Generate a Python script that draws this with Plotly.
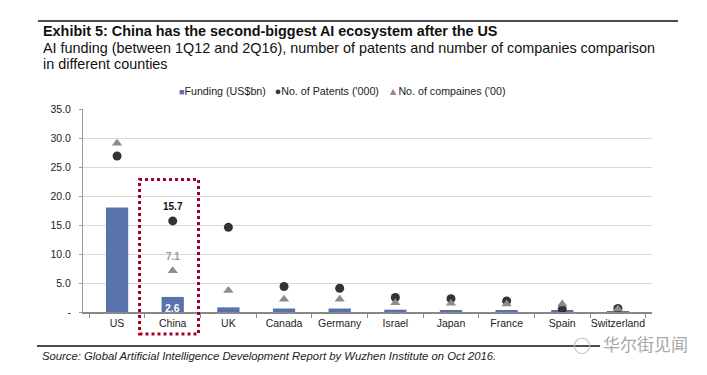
import plotly.graph_objects as go

countries = ["US", "China", "UK", "Canada", "Germany", "Israel", "Japan", "France", "Spain", "Switzerland"]
funding = [18.0, 2.6, 0.8, 0.6, 0.6, 0.4, 0.3, 0.2, 0.2, 0.1]
patents = [26.9, 15.7, 14.6, 4.4, 4.1, 2.5, 2.3, 1.9, 0.5, 0.6]
companies = [29.1, 7.1, 3.7, 2.2, 2.2, 1.6, 1.5, 1.4, 1.4, 0.5]
y_ticks = [0, 5, 10, 15, 20, 25, 30, 35]
y_tick_text = ["-", "5.0", "10.0", "15.0", "20.0", "25.0", "30.0", "35.0"]

BAR_C, PAT_C, COMP_C = "#5873AC", "#333333", "#8C8C8C"

# page has an 8px body margin: figure coords = page coords - 8
OFF = 8
W, H = 699, 367
L = 83 - OFF
T = 109 - OFF
R = W - (652 - OFF)
B = H - (312 - OFF)
PW, PH = W - L - R, H - T - B
FONT = "Liberation Sans, Arial"

fig = go.Figure()
fig.add_trace(go.Bar(x=countries, y=funding, name="Funding (US$bn)",
                     marker=dict(color=BAR_C, line=dict(width=0)), width=0.4))
fig.add_trace(go.Scatter(x=countries, y=patents, mode="markers", name="No. of Patents ('000)",
                         marker=dict(symbol="circle", size=9, color=PAT_C)))
fig.add_trace(go.Scatter(x=countries, y=companies, mode="markers", name="No. of compaines ('00)",
                         marker=dict(symbol="triangle-up", size=9, color=COMP_C)))

fig.update_layout(
    width=W, height=H, margin=dict(l=L, r=R, t=T, b=B),
    plot_bgcolor="white", paper_bgcolor="white",
    font=dict(family=FONT, size=10, color="#222"),
    showlegend=False,
)
fig.update_xaxes(type="category", showgrid=False, showline=True, linecolor="#888888", linewidth=2,
                 ticks="outside", tickson="boundaries", ticklen=4, tickcolor="#888888",
                 tickangle=0, automargin=False,
                 tickfont=dict(size=10.5, color="#222"))
fig.update_yaxes(range=[0, 35], tickvals=y_ticks, ticktext=y_tick_text, showgrid=True,
                 gridcolor="#D9D9D9", gridwidth=1, showline=True, linecolor="#999999", linewidth=1,
                 ticks="outside", ticklen=3, tickcolor="#999999", zeroline=False, automargin=False,
                 ticklabelstandoff=6,
                 tickfont=dict(size=10.5, color="#222"))


def px_x(x):
    return (x - OFF - L) / PW


def px_y(y):
    return 1 - (y - OFF - T) / PH


# legend (manual, compact)
legend_text = (f"<span style='color:{BAR_C};font-size:9px'>■</span>Funding (US$bn)   "
               f"<span style='color:{PAT_C}'>●</span>No. of Patents ('000)   "
               f"<span style='color:{COMP_C}'>▲</span>No. of compaines ('00)")
fig.add_annotation(xref="paper", yref="paper", x=px_x(177), y=px_y(91), xanchor="left", yanchor="middle",
                   text=legend_text, showarrow=False, font=dict(size=10.7, color="#222"))

# data labels for China
ci = countries.index("China")
fig.add_annotation(x=countries[ci], y=patents[ci], text="<b>15.7</b>", showarrow=False,
                   yshift=14, font=dict(size=10, color="#111"))
fig.add_annotation(x=countries[ci], y=companies[ci], text="<b>7.1</b>", showarrow=False,
                   yshift=14, font=dict(size=10, color="#999999"))
fig.add_annotation(x=countries[ci], y=funding[ci], text="<b>2.6</b>", showarrow=False,
                   yanchor="top", yshift=-3, font=dict(size=10.5, color="white"))

# red dotted highlight box
fig.add_shape(type="rect", xref="paper", yref="paper",
              x0=px_x(139.5), x1=px_x(198.5), y0=px_y(334), y1=px_y(179.5),
              line=dict(color="#A50021", width=3, dash="dot"))

# title, subtitle, rules
fig.add_shape(type="line", xref="paper", yref="paper", x0=px_x(38), x1=px_x(678),
              y0=px_y(21), y1=px_y(21), line=dict(color="#111", width=1.5))
fig.add_annotation(xref="paper", yref="paper", x=px_x(41), y=px_y(31), xanchor="left", yanchor="middle",
                   text="<b>Exhibit 5: China has the second-biggest AI ecosystem after the US</b>",
                   showarrow=False, font=dict(size=14.4, color="#111"))
fig.add_annotation(xref="paper", yref="paper", x=px_x(41), y=px_y(48), xanchor="left", yanchor="middle",
                   text="AI funding (between 1Q12 and 2Q16), number of patents and number of companies comparison",
                   align="left", showarrow=False, font=dict(size=14.4, color="#111"))
fig.add_annotation(xref="paper", yref="paper", x=px_x(41), y=px_y(64), xanchor="left", yanchor="middle",
                   text="in different counties",
                   align="left", showarrow=False, font=dict(size=14.4, color="#111"))
fig.add_shape(type="line", xref="paper", yref="paper", x0=px_x(37), x1=px_x(600),
              y0=px_y(346), y1=px_y(346), line=dict(color="#111", width=1.5))
fig.add_annotation(xref="paper", yref="paper", x=px_x(40), y=px_y(355.5), xanchor="left", yanchor="middle",
                   text="<i>Source: Global Artificial Intelligence Development Report by Wuzhen Institute on Oct 2016.</i>",
                   showarrow=False, font=dict(size=11.3, color="#222"))
fig.add_annotation(xref="paper", yref="paper", x=px_x(582), y=px_y(345), xanchor="center", yanchor="middle",
                   text="◯", showarrow=False, font=dict(size=16, color="#C8C8C8"))
fig.add_annotation(xref="paper", yref="paper", x=px_x(645), y=px_y(343), xanchor="center", yanchor="middle",
                   text="华尔街见闻", showarrow=False,
                   font=dict(family="Noto Sans CJK SC", size=17, color="#A8A8A8"))

fig.write_html("out.html")
